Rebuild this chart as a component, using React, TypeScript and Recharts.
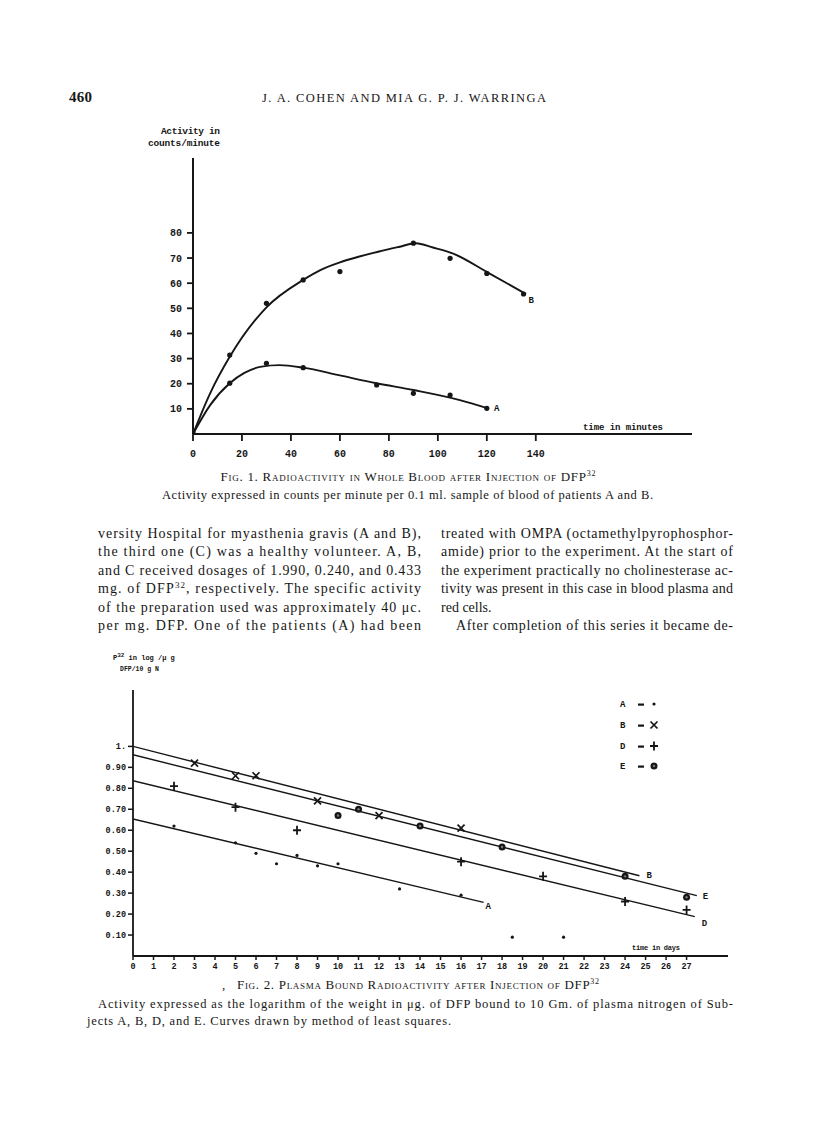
import React from 'react';
import { ComposedChart, Line, Scatter, XAxis, YAxis, ReferenceDot } from 'recharts';

// ---------- Fig. 1 data ----------
const fig1XTicks = [0, 20, 40, 60, 80, 100, 120, 140];
const fig1YTicks = [10, 20, 30, 40, 50, 60, 70, 80];
const fig1OriginT = [0];
const fig1OriginV = [0.6];
const fig1TimesA = [15, 30, 45, 75, 90, 105, 120];
const fig1ValuesA = [20.2, 28.1, 26.4, 19.5, 16.2, 15.5, 10.2];
const fig1TimesB = [15, 30, 45, 60, 90, 105, 120, 135];
const fig1ValuesB = [31.4, 52, 61.3, 64.6, 75.9, 69.9, 63.9, 55.7];
const fig1CurveATimes = [0, 7, 15, 21, 28, 35.4, 45, 60, 75, 90, 109, 120.5];
const fig1CurveAValues = [0, 11.5, 20.2, 24.3, 26.8, 27.4, 26.4, 23.3, 20.2, 17.5, 13.5, 10.2];
const fig1CurveBTimes = [0, 7, 15, 30, 45, 52, 60, 68, 76, 84, 91, 98, 106, 121, 136];
const fig1CurveBValues = [0, 16.2, 30.7, 50.4, 61.3, 65.2, 68.3, 70.6, 72.6, 74.4, 75.9, 74.2, 71.9, 63.9, 55.7];

// ---------- Fig. 2 data ----------
const fig2XTicks = [0, 1, 2, 3, 4, 5, 6, 7, 8, 9, 10, 11, 12, 13, 14, 15, 16, 17, 18, 19, 20, 21, 22, 23, 24, 25, 26, 27];
const fig2YTicks = [0.1, 0.2, 0.3, 0.4, 0.5, 0.6, 0.7, 0.8, 0.9, 1.0];
const fig2DaysA = [2, 5, 6, 7, 8, 9, 10, 13, 16, 18.5, 21];
const fig2ValsA = [0.62, 0.54, 0.49, 0.44, 0.48, 0.43, 0.44, 0.32, 0.29, 0.09, 0.09];
const fig2DaysB = [3, 5, 6, 9, 12, 16];
const fig2ValsB = [0.92, 0.86, 0.86, 0.74, 0.67, 0.61];
const fig2DaysD = [2, 5, 8, 16, 20, 24, 27];
const fig2ValsD = [0.81, 0.71, 0.6, 0.45, 0.38, 0.26, 0.22];
const fig2DaysE = [10, 11, 14, 18, 24, 27];
const fig2ValsE = [0.67, 0.7, 0.62, 0.52, 0.38, 0.28];
const fig2LineADays = [0, 17.1];
const fig2LineAVals = [0.654, 0.256];
const fig2LineBDays = [0, 24.7];
const fig2LineBVals = [1.0, 0.383];
const fig2LineDDays = [0, 27.4];
const fig2LineDVals = [0.836, 0.188];
const fig2LineEDays = [0, 27.5];
const fig2LineEVals = [0.96, 0.288];

const zip = (xs: number[], ys: number[]) => xs.map((x, i) => ({ x, y: ys[i] }));

const INK = '#161616';
const MONO = '"Liberation Mono", "DejaVu Sans Mono", monospace';
const SERIF = '"Liberation Serif", "DejaVu Serif", serif';

const BigDot = (p: any) => <circle cx={p.cx} cy={p.cy} r={2.6} fill={INK} />;
const SmallDot = (p: any) => <circle cx={p.cx} cy={p.cy} r={1.6} fill={INK} />;
const XMark = (p: any) => (
  <path d={`M${p.cx - 3.5},${p.cy - 3.5}L${p.cx + 3.5},${p.cy + 3.5}M${p.cx + 3.5},${p.cy - 3.5}L${p.cx - 3.5},${p.cy + 3.5}`} stroke={INK} strokeWidth={1.7} fill="none" />
);
const PlusMark = (p: any) => (
  <path d={`M${p.cx - 4},${p.cy}L${p.cx + 4},${p.cy}M${p.cx},${p.cy - 4.5}L${p.cx},${p.cy + 4.5}`} stroke={INK} strokeWidth={1.8} fill="none" />
);
const RingMark = (p: any) => (
  <g>
    <circle cx={p.cx} cy={p.cy} r={3.5} fill={INK} />
    <circle cx={p.cx} cy={p.cy} r={1.2} fill="#777" />
  </g>
);

const lineLabel = (txt: string, dx: number, dy: number) => (p: any) => (
  <text x={p.cx + dx} y={p.cy + dy} fontFamily={MONO} fontWeight="bold" fontSize={9} fill={INK}>{txt}</text>
);

const fig1Tick = { fill: INK, fontSize: 10, fontFamily: MONO, fontWeight: 'bold' as const };
const fig2Tick = { fill: INK, fontSize: 8.5, fontFamily: MONO, fontWeight: 'bold' as const };

function Fig1() {
  const lastA = fig1CurveATimes.length - 1;
  const lastB = fig1TimesB.length - 1;
  return (
    <ComposedChart width={816} height={400} margin={{ top: 58, right: 124, bottom: 36, left: 133 }}>
      <XAxis type="number" dataKey="x" domain={[0, 203.8]} ticks={fig1XTicks} allowDataOverflow
        axisLine={{ stroke: INK, strokeWidth: 2 }} tickLine={{ stroke: INK, strokeWidth: 1.8 }}
        tickSize={7} tickMargin={9} height={30} tick={fig1Tick} interval={0} />
      <YAxis type="number" dataKey="y" domain={[0, 109.8]} ticks={fig1YTicks} allowDataOverflow
        axisLine={{ stroke: INK, strokeWidth: 2 }} tickLine={{ stroke: INK, strokeWidth: 1.8 }}
        tickSize={6} tickMargin={5} width={60} tick={fig1Tick} interval={0} />
      <Line data={zip(fig1CurveBTimes, fig1CurveBValues)} dataKey="y" type="monotone" dot={false} stroke={INK} strokeWidth={1.9} isAnimationActive={false} />
      <Line data={zip(fig1CurveATimes, fig1CurveAValues)} dataKey="y" type="monotone" dot={false} stroke={INK} strokeWidth={1.9} isAnimationActive={false} />
      <Scatter data={zip(fig1TimesB, fig1ValuesB)} dataKey="y" shape={BigDot} isAnimationActive={false} />
      <Scatter data={zip(fig1TimesA, fig1ValuesA)} dataKey="y" shape={BigDot} isAnimationActive={false} />
      <Scatter data={zip(fig1OriginT, fig1OriginV)} dataKey="y" shape={BigDot} isAnimationActive={false} />
      <ReferenceDot x={fig1CurveATimes[lastA]} y={fig1CurveAValues[lastA]} r={0} shape={lineLabel('A', 6, 3)} />
      <ReferenceDot x={fig1TimesB[lastB]} y={fig1ValuesB[lastB]} r={0} shape={lineLabel('B', 5, 9)} />
    </ComposedChart>
  );
}

function Fig2() {
  return (
    <ComposedChart width={816} height={360} margin={{ top: 50, right: 88, bottom: 24, left: 93 }}>
      <XAxis type="number" dataKey="x" domain={[0, 29.02]} ticks={fig2XTicks} allowDataOverflow
        axisLine={{ stroke: INK, strokeWidth: 1.8 }} tickLine={{ stroke: INK, strokeWidth: 1.5 }}
        tickSize={4} tickMargin={3} height={20} tick={fig2Tick} interval={0} />
      <YAxis type="number" dataKey="y" domain={[0, 1.269]} ticks={fig2YTicks} allowDataOverflow
        axisLine={{ stroke: INK, strokeWidth: 1.8 }} tickLine={{ stroke: INK, strokeWidth: 1.5 }}
        tickSize={5} tickMargin={2} width={40} tick={fig2Tick} interval={0}
        tickFormatter={(v: number) => (v === 1 ? '1.' : v.toFixed(2))} />
      <Line data={zip(fig2LineBDays, fig2LineBVals)} dataKey="y" type="linear" dot={false} stroke={INK} strokeWidth={1.4} isAnimationActive={false} />
      <Line data={zip(fig2LineEDays, fig2LineEVals)} dataKey="y" type="linear" dot={false} stroke={INK} strokeWidth={1.4} isAnimationActive={false} />
      <Line data={zip(fig2LineDDays, fig2LineDVals)} dataKey="y" type="linear" dot={false} stroke={INK} strokeWidth={1.4} isAnimationActive={false} />
      <Line data={zip(fig2LineADays, fig2LineAVals)} dataKey="y" type="linear" dot={false} stroke={INK} strokeWidth={1.4} isAnimationActive={false} />
      <Scatter data={zip(fig2DaysA, fig2ValsA)} dataKey="y" shape={SmallDot} isAnimationActive={false} />
      <Scatter data={zip(fig2DaysB, fig2ValsB)} dataKey="y" shape={XMark} isAnimationActive={false} />
      <Scatter data={zip(fig2DaysD, fig2ValsD)} dataKey="y" shape={PlusMark} isAnimationActive={false} />
      <Scatter data={zip(fig2DaysE, fig2ValsE)} dataKey="y" shape={RingMark} isAnimationActive={false} />
      <ReferenceDot x={fig2LineADays[1]} y={fig2LineAVals[1]} r={0} shape={lineLabel('A', 2, 7)} />
      <ReferenceDot x={fig2LineBDays[1]} y={fig2LineBVals[1]} r={0} shape={lineLabel('B', 7, 2)} />
      <ReferenceDot x={fig2LineEDays[1]} y={fig2LineEVals[1]} r={0} shape={lineLabel('E', 6, 3)} />
      <ReferenceDot x={fig2LineDDays[1]} y={fig2LineDVals[1]} r={0} shape={lineLabel('D', 7, 9)} />
    </ComposedChart>
  );
}

const leftCol = [
  'versity Hospital for myasthenia gravis (A and B),',
  'the third one (C) was a healthy volunteer.  A, B,',
  'and C received dosages of 1.990, 0.240, and 0.433',
  null,
  'of the preparation used was approximately 40 \u03bcc.',
  'per mg. DFP.  One of the patients (A) had been',
];
const rightCol = [
  'treated with OMPA (octamethylpyrophosphor-',
  'amide) prior to the experiment.  At the start of',
  'the experiment practically no cholinesterase ac-',
  'tivity was present in this case in blood plasma and',
];

function PageText() {
  const lineY = (i: number) => 538 + i * 18.4;
  const bodyProps = { fontFamily: SERIF, fontSize: 14, fill: INK };
  return (
    <svg width={816} height={1134} style={{ position: 'absolute', left: 0, top: 0 }}>
      <text x={69} y={102} fontFamily={SERIF} fontSize={15} fontWeight="bold" fill={INK} textLength={23}>460</text>
      <text x={262} y={102} fontFamily={SERIF} fontSize={12.5} fill={INK} textLength={284} lengthAdjust="spacing">J. A. COHEN AND MIA G. P. J. WARRINGA</text>

      {/* Fig 1 axis titles */}
      <text x={161} y={134} fontFamily={MONO} fontSize={9.5} fontWeight="bold" fill={INK} textLength={59}>Activity in</text>
      <text x={148} y={145.5} fontFamily={MONO} fontSize={9.5} fontWeight="bold" fill={INK} textLength={72}>counts/minute</text>
      <text x={583} y={430} fontFamily={MONO} fontSize={9} fontWeight="bold" fill={INK} textLength={80}>time in minutes</text>

      {/* Fig 1 caption */}
      <text x={408} y={481} textAnchor="middle" fontFamily={SERIF} fontSize={13} fill={INK} style={{ fontVariant: 'small-caps' }} textLength={375} lengthAdjust="spacing">
        Fig. 1.  Radioactivity in Whole Blood after Injection of DFP<tspan dy={-5} fontSize={8}>32</tspan>
      </text>
      <text x={162} y={499} fontFamily={SERIF} fontSize={12.5} fill={INK} textLength={491} lengthAdjust="spacing">Activity expressed in counts per minute per 0.1 ml. sample of blood of patients A and B.</text>

      {/* body text, left column */}
      {leftCol.map((t, i) => t === null ? null : (
        <text key={'l' + i} x={98} y={lineY(i)} {...bodyProps} textLength={323} lengthAdjust="spacing">{t}</text>
      ))}
      <text x={98} y={lineY(3)} {...bodyProps} textLength={323} lengthAdjust="spacing">
        mg. of DFP<tspan dy={-5} fontSize={9}>32</tspan><tspan dy={5}>, respectively.  The specific activity</tspan>
      </text>
      {/* right column */}
      {rightCol.map((t, i) => (
        <text key={'r' + i} x={441} y={lineY(i)} {...bodyProps} textLength={292} lengthAdjust="spacing">{t}</text>
      ))}
      <text x={441} y={lineY(4)} {...bodyProps}>red cells.</text>
      <text x={456} y={lineY(5)} {...bodyProps} textLength={277} lengthAdjust="spacing">After completion of this series it became de-</text>

      {/* Fig 2 axis title */}
      <text x={113} y={660} fontFamily={MONO} fontSize={7} fontWeight="bold" fill={INK}>
        P<tspan dy={-3} fontSize={6}>32</tspan><tspan dy={3}> in log /{'\u03bc'} g</tspan>
      </text>
      <text x={120} y={671} fontFamily={MONO} fontSize={6.5} fontWeight="bold" fill={INK}>DFP/10 g N</text>

      {/* Fig 2 legend */}
      {[['A', 707], ['B', 728], ['D', 749], ['E', 769]].map(([l, y]) => (
        <g key={l as string}>
          <text x={620} y={y as number} fontFamily={MONO} fontSize={9} fontWeight="bold" fill={INK}>{l}</text>
          <rect x={638} y={(y as number) - 3.5} width={6} height={2.2} fill={INK} />
        </g>
      ))}
      <SmallDot cx={654} cy={704} />
      <XMark cx={654} cy={725} />
      <PlusMark cx={654} cy={746} />
      <RingMark cx={654} cy={766} />

      <text x={632} y={950} fontFamily={MONO} fontSize={7} fontWeight="bold" fill={INK} textLength={48}>time in days</text>

      {/* Fig 2 caption */}
      <text x={222} y={989} fontFamily={SERIF} fontSize={13} fill={INK}>,</text>
      <text x={418} y={989} textAnchor="middle" fontFamily={SERIF} fontSize={13} fill={INK} style={{ fontVariant: 'small-caps' }} textLength={362} lengthAdjust="spacing">
        Fig. 2.  Plasma Bound Radioactivity after Injection of DFP<tspan dy={-5} fontSize={8}>32</tspan>
      </text>
      <text x={98} y={1008} fontFamily={SERIF} fontSize={12.5} fill={INK} textLength={635} lengthAdjust="spacing">Activity expressed as the logarithm of the weight in {'\u03bc'}g. of DFP bound to 10 Gm. of plasma nitrogen of Sub-</text>
      <text x={87} y={1025} fontFamily={SERIF} fontSize={12.5} fill={INK} textLength={364} lengthAdjust="spacing">jects A, B, D, and E.  Curves drawn by method of least squares.</text>
    </svg>
  );
}

export default function App() {
  return (
    <div style={{ position: 'absolute', left: 0, top: 0, width: 816, height: 1134, background: '#fff', overflow: 'hidden' }}>
      <PageText />
      <div style={{ position: 'absolute', left: 0, top: 100 }}>
        <Fig1 />
      </div>
      <div style={{ position: 'absolute', left: 0, top: 640 }}>
        <Fig2 />
      </div>
    </div>
  );
}
